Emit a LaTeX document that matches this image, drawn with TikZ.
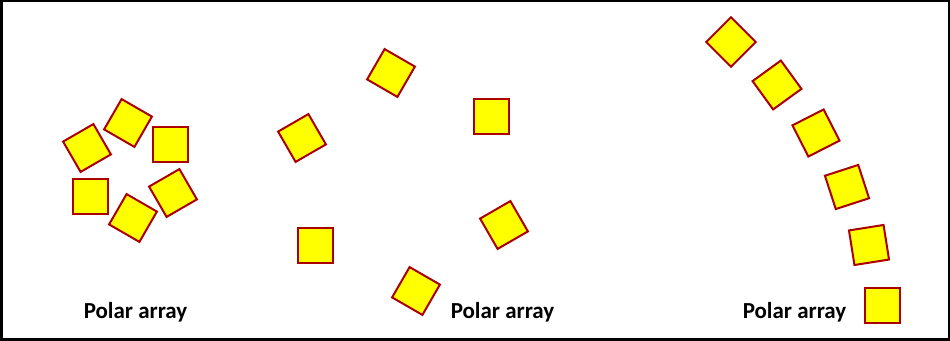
\documentclass[tikz,border=0pt]{standalone}
\usepackage{fontspec}
\newfontfamily\arrfont{Carlito}
\usepackage{tikz}
\definecolor{sqedge}{RGB}{170,0,0}
\definecolor{sqfill}{RGB}{255,255,0}
\tikzset{
  frame/.style={draw=black, line width=0.075cm},
  sqbox/.style={draw=sqedge, fill=sqfill, line width=0.06cm,
    minimum size=1.05cm, inner sep=0pt},
  arrlabel/.style={font=\arrfont\bfseries\fontsize{19.6}{23}\selectfont,
    anchor=base, inner sep=0pt},
}
\begin{document}
\begin{tikzpicture}[x=0.03cm, y=0.03cm]
\useasboundingbox (0,0) rectangle (950,341);
\draw[frame] (1.25,1.25) rectangle (948.75,339.75);
% small circle
\node[sqbox] (l1) at (170,196) {};
\node[sqbox, rotate=60] (l2) at (128,218) {};
\node[sqbox, rotate=120] (l3) at (87,193) {};
\node[sqbox] (l4) at (90,144) {};
\node[sqbox, rotate=-30] (l5) at (133,123) {};
\node[sqbox, rotate=30] (l6) at (173,148) {};
\node[arrlabel] (lab1) at (135.5,22) {Polar array};
% large circle
\node[sqbox] (m1) at (491,224) {};
\node[sqbox, rotate=-30] (m2) at (391,268) {};
\node[sqbox, rotate=30] (m3) at (302,203) {};
\node[sqbox] (m4) at (315,95) {};
\node[sqbox, rotate=-30] (m5) at (416,50) {};
\node[sqbox, rotate=30] (m6) at (504,116) {};
\node[arrlabel] (lab2) at (502.5,22) {Polar array};
% arc
\node[sqbox] (r1) at (882,35) {};
\node[sqbox, rotate=9] (r2) at (869,96) {};
\node[sqbox, rotate=18] (r3) at (847,154) {};
\node[sqbox, rotate=27] (r4) at (816,208) {};
\node[sqbox, rotate=36] (r5) at (777,256) {};
\node[sqbox, rotate=45] (r6) at (731,299) {};
\node[arrlabel] (lab3) at (794.5,22) {Polar array};
\end{tikzpicture}
\end{document}
